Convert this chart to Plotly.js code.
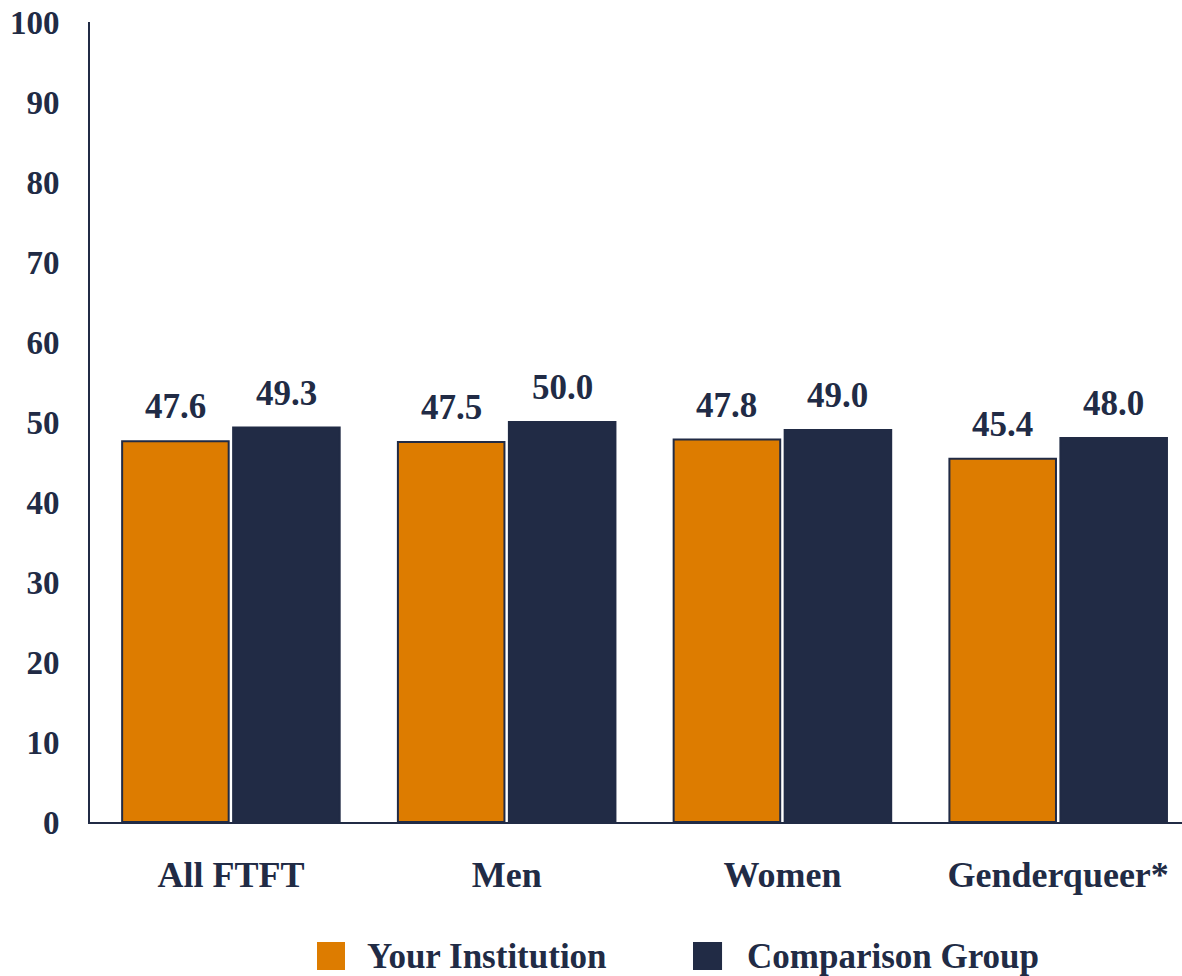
<!DOCTYPE html>
<html>
<head>
<meta charset="utf-8">
<script src="https://cdn.plot.ly/plotly-3.0.1.min.js"></script>
<style>
html,body{margin:0;padding:0;background:#fff;}
#chart{width:1182px;height:976px;}
</style>
</head>
<body>
<div id="chart"></div>
<script>
const categories = ["All FTFT", "Men", "Women", "Genderqueer*"];
const yourInstitution = [47.6, 47.5, 47.8, 45.4];
const comparisonGroup = [49.3, 50.0, 49.0, 48.0];
const seriesNames = ["Your Institution", "Comparison Group"];
const yTicks = [0, 10, 20, 30, 40, 50, 60, 70, 80, 90, 100];

const NAVY = "#212B45";
const ORANGE = "#DD7C00";
const FONT = "Liberation Serif";

const bargap = 0.195, bargroupgap = 0.04;
const slot = (1 - bargap) / 2;
const off = slot / 2;

const traces = [
  {type: "bar", name: seriesNames[0], x: categories.map((c, i) => i), y: yourInstitution,
   marker: {color: ORANGE, line: {color: NAVY, width: 2}}, showlegend: false, hoverinfo: "none"},
  {type: "bar", name: seriesNames[1], x: categories.map((c, i) => i), y: comparisonGroup,
   marker: {color: NAVY, line: {color: NAVY, width: 2}}, showlegend: false, hoverinfo: "none"}
];

const annotations = [];
[yourInstitution, comparisonGroup].forEach((vals, s) => {
  vals.forEach((v, i) => {
    annotations.push({x: i + (s === 0 ? -off : off), y: v, xref: "x", yref: "y",
      text: v.toFixed(1), showarrow: false, yanchor: "bottom", yshift: 13,
      font: {family: FONT, size: 35, color: NAVY, weight: "bold"}});
  });
});

// custom legend
const legendItems = [
  {name: seriesNames[0], color: ORANGE, x0: 0.2079, x1: 0.2335, tx: 0.2518},
  {name: seriesNames[1], color: NAVY, x0: 0.5522, x1: 0.5788, tx: 0.5998}
];
const shapes = [];
legendItems.forEach(it => {
  shapes.push({type: "rect", xref: "paper", yref: "paper", x0: it.x0, x1: it.x1, y0: -0.185, y1: -0.15,
    fillcolor: it.color, line: {width: 0}});
  annotations.push({xref: "paper", yref: "paper", x: it.tx, y: -0.1675, xanchor: "left", yanchor: "middle",
    text: it.name, showarrow: false, font: {family: FONT, size: 35, color: NAVY, weight: "bold"}});
});

const layout = {
  width: 1182, height: 976,
  margin: {l: 90, r: 0, t: 22, b: 154},
  paper_bgcolor: "#fff", plot_bgcolor: "#fff",
  barmode: "group", bargap: bargap, bargroupgap: bargroupgap,
  font: {family: FONT, color: NAVY, size: 32, weight: "bold"},
  xaxis: {
    tickmode: "array", tickvals: categories.map((c, i) => i), ticktext: categories,
    range: [-0.511, 3.449], showline: true, linecolor: NAVY, linewidth: 2,
    showgrid: false, zeroline: false, ticks: "", ticklabelstandoff: 20,
    tickfont: {family: FONT, size: 36, color: NAVY, weight: "bold"}
  },
  yaxis: {
    range: [0, 100], tickmode: "array", tickvals: yTicks,
    showline: true, linecolor: NAVY, linewidth: 2, showgrid: false, zeroline: false,
    ticks: "", ticklabelstandoff: 22,
    tickfont: {family: FONT, size: 33, color: NAVY, weight: "bold"}
  },
  annotations: annotations,
  shapes: shapes,
  showlegend: false
};

Plotly.newPlot("chart", traces, layout, {displayModeBar: false, staticPlot: true});
</script>
</body>
</html>
